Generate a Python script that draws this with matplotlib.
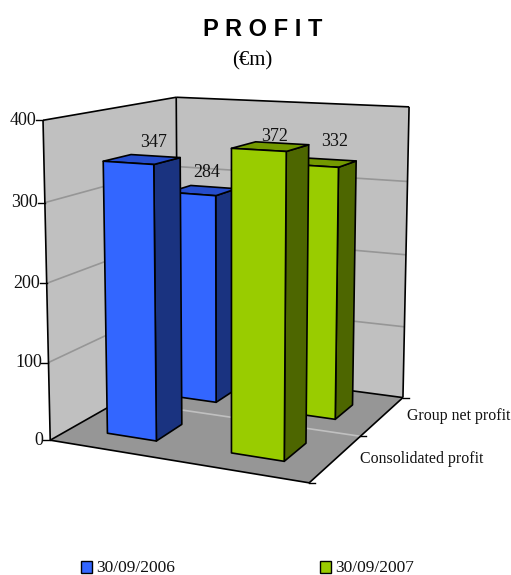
import numpy as np
import matplotlib
matplotlib.use("Agg")
import matplotlib.pyplot as plt
from matplotlib.patches import Polygon, Rectangle

W, H = 511, 575

rows = ["Consolidated profit", "Group net profit"]
series = ["30/09/2006", "30/09/2007"]
values_2006 = [347, 284]
values_2007 = [372, 332]
z_ticks = [0, 100, 200, 300, 400]

BLUE = ("#3366ff", "#1a3380", "#264dcc")
GREEN = ("#99cc00", "#4d6600", "#739900")
SERIF = "Liberation Serif"

# box corners (x, depth, value) and where they land on the page
box_pts = [(0, 0, 0), (0, 0, 400), (0, 1, 400), (1, 1, 400), (1, 1, 0), (1, 0, 0),
           (0, 1, 0), (0, 0, 100), (0, 0, 200), (0, 0, 300),
           (1, 1, 100), (1, 1, 200), (1, 1, 300), (1, 0.5, 0)]
page_pts = [(50, 439.3), (43, 121), (176.7, 96.7), (409.3, 106.7), (403.3, 396.7), (310, 484),
            (178, 369), (48.7, 361.7), (46.7, 283.3), (44.3, 202.7),
            (404, 326.7), (405.7, 255), (407.3, 181.7), (360, 436)]


def fit_camera(src, dst):
    # plain DLT for the 3x4 projection matrix
    rows_a = []
    for (x, y, z), (u, v) in zip(src, dst):
        z = z / 400
        rows_a.append([x, y, z, 1, 0, 0, 0, 0, -u*x, -u*y, -u*z, -u])
        rows_a.append([0, 0, 0, 0, x, y, z, 1, -v*x, -v*y, -v*z, -v])
    _, _, vt = np.linalg.svd(np.array(rows_a))
    return vt[-1].reshape(3, 4)


P = fit_camera(box_pts, page_pts)


def project(x, y, z):
    u, v, w = P @ np.array([x, y, z / 400, 1.0])
    return u / w, v / w


def quad(ax, corners, color, edge="black", lw=1.2, zorder=1):
    ax.add_patch(Polygon([project(*c) for c in corners], closed=True, facecolor=color,
                         edgecolor=edge, linewidth=lw, joinstyle="round", zorder=zorder))


def line3(ax, a, b, color, lw=1.2, zorder=2):
    p, q = project(*a), project(*b)
    ax.plot([p[0], q[0]], [p[1], q[1]], color=color, lw=lw, zorder=zorder, solid_capstyle="butt")


def bar(ax, x0, x1, y0, y1, value, colors, zorder):
    front, side, top = colors
    quad(ax, [(x1, y0, 0), (x1, y1, 0), (x1, y1, value), (x1, y0, value)], side, zorder=zorder)
    quad(ax, [(x0, y0, value), (x1, y0, value), (x1, y1, value), (x0, y1, value)], top, zorder=zorder)
    quad(ax, [(x0, y0, 0), (x1, y0, 0), (x1, y0, value), (x0, y0, value)], front, zorder=zorder)


fig = plt.figure(figsize=(W / 100, H / 100), dpi=100)
ax = fig.add_axes([0, 0, 1, 1])
ax.set_xlim(0, W)
ax.set_ylim(H, 0)
ax.axis("off")

# walls and floor
quad(ax, [(0, 1, 0), (1, 1, 0), (1, 0, 0), (0, 0, 0)], "#969696", edge="none")
quad(ax, [(0, 0, 0), (0, 1, 0), (0, 1, 400), (0, 0, 400)], "#c0c0c0", edge="none")
quad(ax, [(0, 1, 0), (1, 1, 0), (1, 1, 400), (0, 1, 400)], "#c0c0c0", edge="none")

for t in z_ticks[1:-1]:
    line3(ax, (0, 0, t), (0, 1, t), "#969696", lw=1.2)
    line3(ax, (0, 1, t), (1, 1, t), "#969696", lw=1.2)
line3(ax, (0, 0.5, 0), (1, 0.5, 0), "#c0c0c0", lw=1.2)

for a, b in [((0, 0, 0), (0, 0, 400)), ((0, 0, 400), (0, 1, 400)), ((0, 1, 400), (1, 1, 400)),
             ((0, 1, 400), (0, 1, 0)), ((1, 1, 400), (1, 1, 0)), ((0, 0, 0), (0, 1, 0)),
             ((0, 1, 0), (1, 1, 0)), ((0, 0, 0), (1, 0, 0)), ((1, 0, 0), (1, 1, 0))]:
    line3(ax, a, b, "black")

# value axis ticks and labels
for t in z_ticks:
    px, py = project(0, 0, t)
    ax.plot([px - 7, px], [py, py], color="black", lw=1.0, zorder=2)
    ax.text(px - 6.5, py, str(t), family=SERIF, fontsize=13, ha="right", va="center", color="#111111")

# depth axis ticks and labels
for d in [0, 0.5, 1]:
    px, py = project(1, d, 0)
    ax.plot([px, px + 6], [py, py], color="black", lw=1.0, zorder=2)
ax.text(360, 459, rows[0], family=SERIF, fontsize=11.4, ha="left", va="center", color="#111111")
ax.text(407, 416, rows[1], family=SERIF, fontsize=11.4, ha="left", va="center", color="#111111")

# bars, back row first so the front row hides it
x_span = [(0.141, 0.343), (0.64, 0.84)]
y_span = [(0.15, 0.35), (0.64, 0.83)]
row_shift = [0.008, 0.01]
label_shift = [[(11, -17), (4, -18)], [(4, -10), (12, -21)]]
for j in [1, 0]:
    for i, (vals, colors) in enumerate([(values_2006, BLUE), (values_2007, GREEN)]):
        x0, x1 = x_span[i][0] + row_shift[j], x_span[i][1] + row_shift[j]
        y0, y1 = y_span[j]
        bar(ax, x0, x1, y0, y1, vals[j], colors, zorder=5 + (1 - j) * 2 + i)
        px, py = project((x0 + x1) / 2, (y0 + y1) / 2, vals[j])
        dx, dy = label_shift[i][j]
        ax.text(px + dx, py + dy, str(vals[j]), family=SERIF, fontsize=13, ha="center", va="center",
                color="#111111", zorder=20)

ax.text(262.5, 30, "P R O F I T", family="Liberation Sans", fontweight="bold", fontsize=17,
        ha="center", va="center", color="black")
ax.text(252.5, 61, "(€m)", family=SERIF, fontsize=15, ha="center", va="center", color="black")

# legend
for name, color, lx in zip(series, [BLUE[0], GREEN[0]], [81, 320]):
    ax.add_patch(Rectangle((lx, 561), 11, 12, facecolor=color, edgecolor="black", linewidth=1.0))
    ax.text(lx + 15, 567.5, name, family=SERIF, fontsize=12.5, ha="left", va="center", color="#111111")

fig.savefig("out.png", dpi=100)
